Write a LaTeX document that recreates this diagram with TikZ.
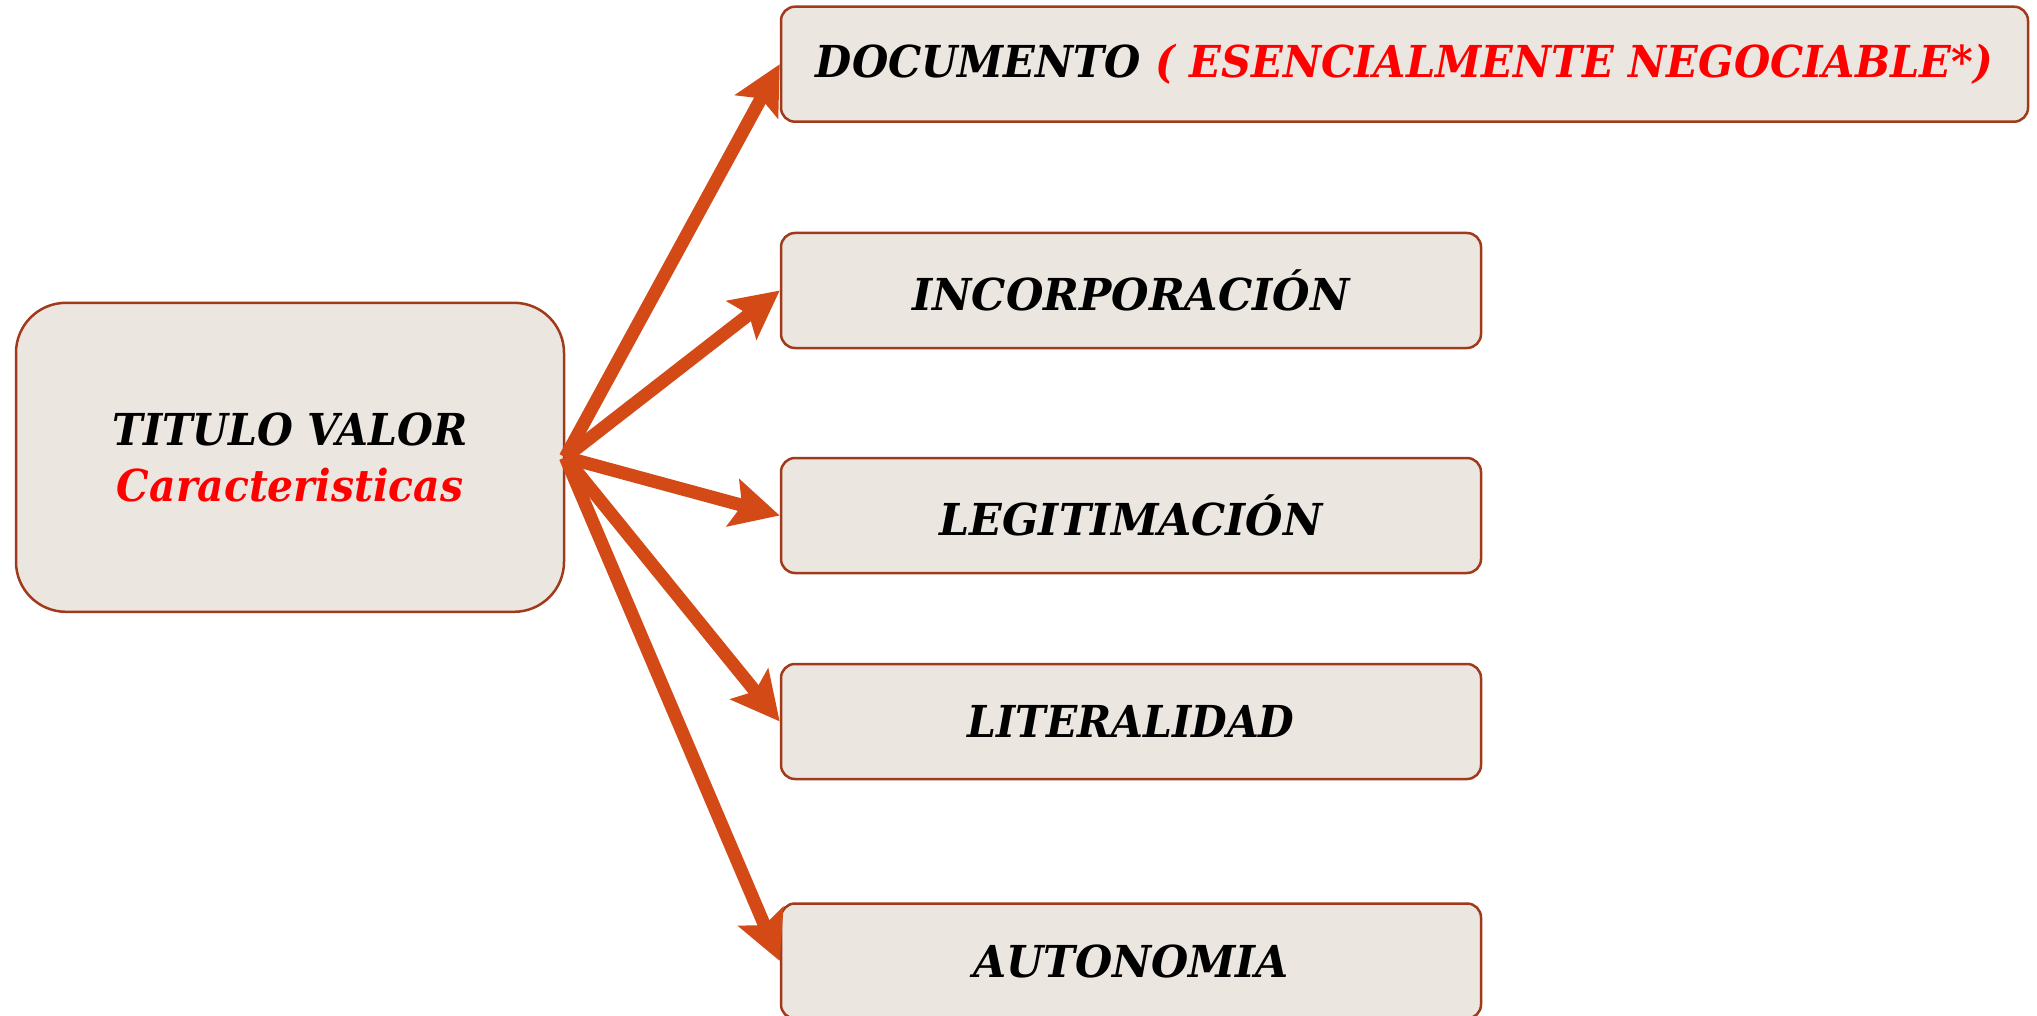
\documentclass[tikz,border=0pt]{standalone}
\usepackage{graphicx}
\usepackage{fontspec}
\setmainfont{DejaVu Serif}
\usetikzlibrary{arrows.meta}
\definecolor{boxfill}{RGB}{235,230,224}
\definecolor{boxline}{RGB}{160,58,26}
\definecolor{arrowc}{RGB}{211,74,23}
\definecolor{redtxt}{RGB}{255,0,0}
\newcommand{\fitw}[2]{\resizebox{#1}{\height}{#2}}
\begin{document}
\begin{tikzpicture}[x=1pt,y=-1pt,
  card/.style={draw=boxline, line width=2.5pt, fill=boxfill, rounded corners=14pt,
    inner sep=0pt, minimum height=115pt, minimum width=700pt,
    font=\fontsize{44}{56}\selectfont\bfseries\itshape},
  conn/.style={draw=arrowc, line width=13pt, -{Stealth[length=48pt,width=48pt,inset=9pt]}}]
\useasboundingbox (0,0) rectangle (2037,1016);
\node[card, rounded corners=50pt, minimum width=548pt, minimum height=309pt, align=center] (L) at (290,457.3)
  {\fitw{355pt}{TITULO VALOR}\\\color{redtxt}\fitw{346pt}{Caracteristicas}};
\node[card, minimum width=1247pt] (D) at (1404.5,64.2)
  {\fitw{1177pt}{DOCUMENTO \textcolor{redtxt}{( ESENCIALMENTE NEGOCIABLE*)}}};
\node[card] (I) at (1131,290.5) {\fitw{437pt}{INCORPORACIÓN}};
\node[card] (G) at (1131,515.5) {\fitw{383pt}{LEGITIMACIÓN}};
\node[card] (T) at (1131,721.5) {\fitw{327pt}{LITERALIDAD}};
\node[card] (A) at (1131,961) {\fitw{316pt}{AUTONOMIA}};
\draw[conn] (L.east) -- (D.west);
\draw[conn] (L.east) -- (I.west);
\draw[conn] (L.east) -- (G.west);
\draw[conn] (L.east) -- (T.west);
\draw[conn] (L.east) -- (A.west);
\end{tikzpicture}
\end{document}
